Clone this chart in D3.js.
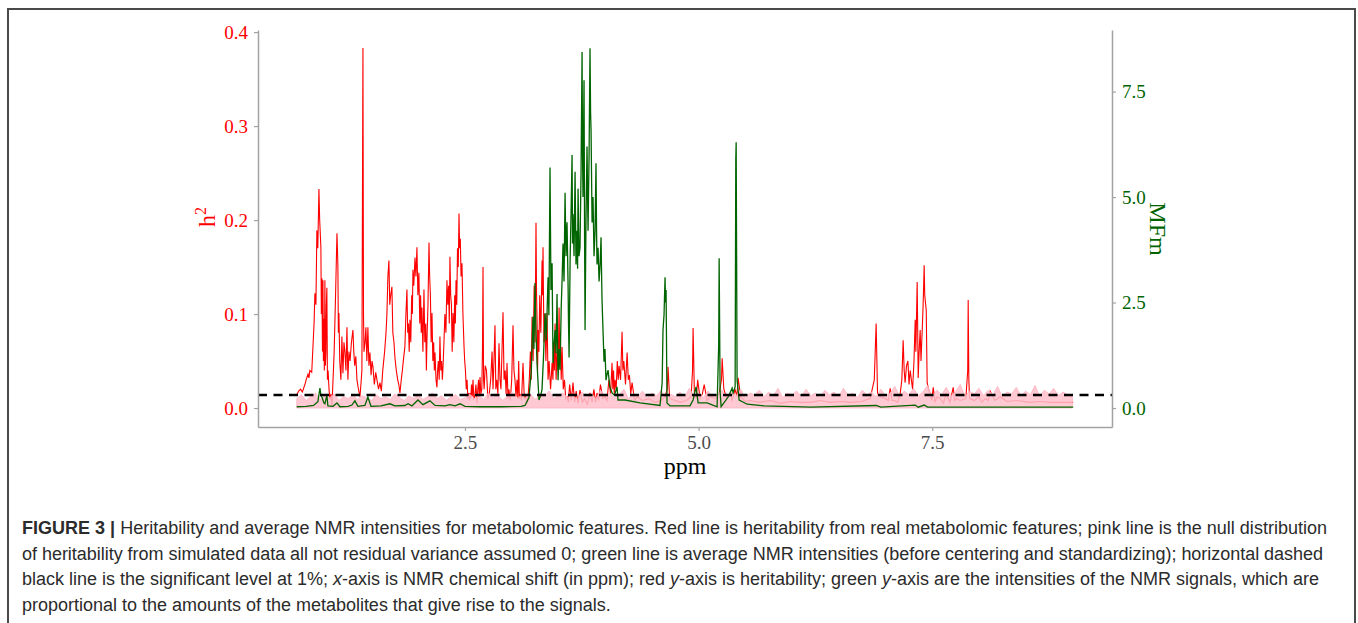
<!DOCTYPE html>
<html>
<head>
<meta charset="utf-8">
<script src="https://cdn.jsdelivr.net/npm/d3@7"></script>
<style>
body { margin: 0; background: #fff; }
</style>
</head>
<body>
<svg id="fig" width="1358" height="623"></svg>
<script>
// heritability of the real features [ppm, h2]
var h2Real = [
[0.70,0.014],[0.72,0.018],[0.74,0.020],[0.76,0.017],[0.79,0.026],[0.80,0.030],[0.82,0.036],[0.83,0.032],[0.84,0.040],[0.86,0.038],
[0.873,0.065],[0.885,0.090],[0.894,0.122],[0.905,0.110],[0.915,0.189],[0.925,0.170],[0.937,0.233],[0.945,0.200],[0.958,0.171],[0.963,0.100],
[0.969,0.138],[0.975,0.060],[0.980,0.136],[0.985,0.050],[0.990,0.095],[0.995,0.040],[1.001,0.136],[1.006,0.045],[1.012,0.060],[1.017,0.110],
[1.022,0.128],[1.028,0.030],[1.035,0.040],[1.045,0.020],[1.055,0.009],[1.066,0.015],[1.076,0.001],[1.088,0.030],[1.100,0.060],[1.115,0.120],
[1.130,0.186],[1.135,0.170],[1.140,0.150],[1.145,0.080],[1.151,0.101],[1.160,0.050],[1.172,0.030],[1.183,0.076],[1.194,0.037],[1.205,0.070],
[1.215,0.060],[1.226,0.040],[1.237,0.086],[1.247,0.030],[1.258,0.060],[1.270,0.050],[1.285,0.070],[1.301,0.083],[1.310,0.060],[1.320,0.045],
[1.332,0.055],[1.344,0.030],[1.360,0.020],[1.376,0.012],[1.390,0.030],[1.397,0.040],[1.408,0.383],[1.414,0.100],[1.419,0.060],[1.430,0.070],
[1.440,0.086],[1.450,0.050],[1.461,0.086],[1.472,0.045],[1.483,0.059],[1.495,0.035],[1.505,0.050],[1.515,0.044],[1.530,0.025],[1.545,0.038],
[1.558,0.030],[1.575,0.020],[1.590,0.027],[1.605,0.018],[1.620,0.040],[1.640,0.060],[1.655,0.080],[1.665,0.101],[1.675,0.140],[1.686,0.157],
[1.695,0.110],[1.705,0.120],[1.718,0.129],[1.728,0.080],[1.740,0.070],[1.750,0.054],[1.765,0.040],[1.780,0.030],[1.792,0.025],[1.804,0.016],
[1.818,0.030],[1.830,0.040],[1.845,0.055],[1.857,0.065],[1.868,0.100],[1.879,0.126],[1.887,0.080],[1.895,0.090],[1.903,0.060],[1.911,0.094],
[1.920,0.070],[1.930,0.120],[1.937,0.100],[1.943,0.147],[1.952,0.130],[1.965,0.160],[1.975,0.140],[1.986,0.171],[1.996,0.120],[2.007,0.144],
[2.016,0.090],[2.025,0.120],[2.032,0.080],[2.039,0.107],[2.050,0.060],[2.061,0.126],[2.070,0.070],[2.080,0.090],[2.087,0.040],[2.093,0.072],
[2.104,0.110],[2.115,0.176],[2.122,0.140],[2.130,0.120],[2.138,0.070],[2.147,0.101],[2.156,0.050],[2.165,0.070],[2.172,0.040],[2.179,0.059],
[2.190,0.030],[2.200,0.022],[2.207,0.040],[2.215,0.050],[2.224,0.030],[2.232,0.076],[2.241,0.040],[2.250,0.050],[2.258,0.030],[2.265,0.044],
[2.275,0.070],[2.285,0.100],[2.296,0.080],[2.307,0.136],[2.316,0.110],[2.325,0.130],[2.332,0.090],[2.339,0.161],[2.347,0.120],[2.355,0.110],
[2.363,0.060],[2.372,0.101],[2.381,0.070],[2.390,0.120],[2.397,0.090],[2.404,0.136],[2.412,0.110],[2.420,0.170],[2.428,0.150],[2.436,0.207],
[2.443,0.170],[2.450,0.180],[2.458,0.140],[2.468,0.154],[2.478,0.100],[2.490,0.065],[2.497,0.050],[2.505,0.040],[2.514,0.020],[2.522,0.030],
[2.531,0.010],[2.540,0.016],[2.547,0.008],[2.554,0.016],[2.562,0.010],[2.570,0.025],[2.578,0.012],[2.586,0.030],[2.595,0.010],[2.605,0.012],
[2.617,0.025],[2.629,0.005],[2.637,0.020],[2.645,0.030],[2.653,0.012],[2.661,0.033],[2.670,0.015],[2.680,0.020],[2.687,0.060],[2.693,0.150],
[2.699,0.030],[2.705,0.020],[2.717,0.045],[2.730,0.040],[2.745,0.010],[2.760,0.015],[2.775,0.030],[2.790,0.060],[2.800,0.020],[2.810,0.050],
[2.821,0.088],[2.830,0.020],[2.840,0.030],[2.852,0.015],[2.864,0.069],[2.875,0.030],[2.885,0.020],[2.896,0.060],[2.907,0.102],[2.918,0.030],
[2.930,0.040],[2.940,0.015],[2.950,0.048],[2.960,0.010],[2.970,0.020],[2.985,0.008],[3.000,0.030],[3.014,0.088],[3.024,0.040],[3.035,0.030],
[3.046,0.012],[3.057,0.030],[3.066,0.010],[3.075,0.050],[3.082,0.010],[3.089,0.015],[3.105,0.008],[3.121,0.048],[3.135,0.010],[3.150,0.012],
[3.162,0.004],[3.175,0.012],[3.188,0.030],[3.200,0.060],[3.209,0.030],[3.218,0.097],[3.229,0.050],[3.240,0.130],[3.250,0.070],[3.260,0.197],
[3.266,0.120],[3.272,0.090],[3.277,0.040],[3.282,0.083],[3.291,0.060],[3.300,0.120],[3.312,0.080],[3.325,0.157],[3.330,0.120],[3.335,0.171],
[3.345,0.070],[3.355,0.100],[3.366,0.050],[3.378,0.101],[3.389,0.030],[3.400,0.050],[3.416,0.020],[3.432,0.048],[3.441,0.030],[3.450,0.070],
[3.457,0.040],[3.464,0.090],[3.475,0.030],[3.485,0.060],[3.496,0.040],[3.507,0.107],[3.514,0.050],[3.520,0.080],[3.530,0.030],[3.539,0.065],
[3.552,0.020],[3.565,0.030],[3.578,0.010],[3.592,0.012],[3.606,0.006],[3.620,0.025],[3.638,0.008],[3.656,0.027],[3.673,0.006],[3.690,0.018],
[3.710,0.005],[3.731,0.019],[3.755,0.006],[3.780,0.010],[3.810,0.004],[3.838,0.016],[3.860,0.006],[3.880,0.020],[3.897,0.006],[3.913,0.016],
[3.930,0.008],[3.950,0.025],[3.975,0.010],[3.999,0.012],[4.020,0.008],[4.040,0.030],[4.058,0.015],[4.074,0.048],[4.082,0.020],[4.090,0.040],
[4.098,0.015],[4.106,0.030],[4.118,0.020],[4.130,0.050],[4.140,0.030],[4.149,0.045],[4.165,0.030],[4.181,0.081],[4.190,0.040],[4.200,0.050],
[4.218,0.025],[4.235,0.059],[4.248,0.030],[4.260,0.035],[4.274,0.015],[4.288,0.027],[4.315,0.008],[4.341,0.012],[4.40,0.008],[4.47,0.010],
[4.534,0.006],[4.60,0.008],[4.64,0.012],[4.665,0.020],[4.673,0.044],[4.69,0.010],[4.75,0.008],[4.802,0.006],[4.87,0.008],[4.920,0.012],
[4.935,0.040],[4.941,0.085],[4.955,0.015],[4.975,0.010],[4.990,0.030],[5.016,0.010],[5.040,0.015],[5.060,0.025],[5.090,0.008],[5.123,0.012],
[5.180,0.010],[5.220,0.015],[5.245,0.030],[5.252,0.053],[5.270,0.020],[5.300,0.010],[5.337,0.015],[5.360,0.008],[5.390,0.020],[5.410,0.012],
[5.423,0.032],[5.450,0.012],[5.500,0.007],[5.552,0.008],[5.65,0.006],[5.767,0.008],[5.88,0.005],[5.981,0.007],[6.10,0.006],[6.195,0.006],
[6.30,0.008],[6.409,0.006],[6.52,0.007],[6.622,0.006],[6.74,0.007],[6.836,0.010],[6.880,0.030],[6.900,0.090],[6.915,0.015],[6.943,0.012],
[7.000,0.010],[7.030,0.008],[7.050,0.021],[7.070,0.008],[7.100,0.008],[7.130,0.006],[7.157,0.015],[7.175,0.030],[7.189,0.072],[7.200,0.040],
[7.210,0.027],[7.225,0.045],[7.240,0.050],[7.252,0.025],[7.264,0.040],[7.290,0.020],[7.305,0.050],[7.318,0.094],[7.325,0.060],[7.339,0.134],
[7.344,0.090],[7.350,0.032],[7.360,0.060],[7.371,0.083],[7.380,0.050],[7.393,0.083],[7.403,0.110],[7.414,0.152],[7.420,0.120],[7.436,0.104],
[7.446,0.027],[7.460,0.020],[7.480,0.015],[7.495,0.008],[7.511,0.022],[7.530,0.006],[7.550,0.012],[7.586,0.010],[7.620,0.005],[7.650,0.015],
[7.690,0.006],[7.725,0.022],[7.740,0.008],[7.760,0.010],[7.800,0.008],[7.860,0.010],[7.880,0.040],[7.885,0.115],[7.892,0.030],[7.900,0.010],
[7.950,0.008],[8.000,0.012],[8.030,0.006],[8.067,0.010],[8.100,0.008],[8.12,0.018],[8.17,0.008],[8.228,0.012],[8.30,0.007],[8.40,0.008],
[8.549,0.006],[8.65,0.007],[8.763,0.006],[8.88,0.006],[9.009,0.006]
];

// null distribution from simulated data [ppm, h2]
var h2Null = [
[0.70,.010],[0.75,.014],[0.80,.008],[0.85,.012],[0.90,.016],[0.95,.009],[1.00,.013],[1.05,.011],[1.10,.015],[1.15,.008],
[1.20,.012],[1.25,.010],[1.30,.014],[1.35,.009],[1.40,.013],[1.45,.011],[1.50,.008],[1.55,.014],[1.60,.010],[1.65,.012],
[1.70,.009],[1.75,.015],[1.80,.011],[1.85,.008],[1.90,.013],[1.95,.010],[2.00,.014],[2.05,.009],[2.10,.012],[2.15,.016],
[2.20,.010],[2.25,.013],[2.30,.008],[2.35,.012],[2.40,.014],[2.45,.009],[2.50,.011],[2.55,.015],[2.60,.010],[2.65,.013],
[2.70,.009],[2.75,.016],[2.80,.011],[2.85,.014],[2.90,.008],[2.95,.012],[3.00,.017],[3.05,.010],[3.10,.013],[3.15,.011],
[3.20,.015],[3.25,.009],[3.30,.014],[3.35,.012],[3.40,.018],[3.45,.010],[3.50,.013],[3.55,.016],[3.60,.011],[3.65,.014],
[3.70,.009],[3.75,.017],[3.80,.012],[3.85,.015],[3.90,.010],[3.95,.019],[4.00,.012],[4.05,.016],[4.10,.011],[4.15,.014],
[4.20,.020],[4.25,.010],[4.30,.015],[4.35,.012],[4.40,.018],[4.45,.011],[4.50,.016],[4.55,.013],[4.60,.019],[4.65,.010],
[4.70,.015],[4.75,.012],[4.80,.017],[4.85,.011],[4.90,.021],[4.95,.013],[5.00,.016],[5.05,.011],[5.10,.018],[5.15,.012],
[5.20,.015],[5.25,.019],[5.30,.012],[5.35,.017],[5.40,.013],[5.45,.020],[5.50,.011],[5.55,.016],[5.60,.014],[5.65,.019],
[5.70,.012],[5.75,.017],[5.80,.013],[5.85,.021],[5.90,.011],[5.95,.016],[6.00,.014],[6.05,.018],[6.10,.012],[6.15,.020],
[6.20,.013],[6.25,.016],[6.30,.011],[6.35,.019],[6.40,.014],[6.45,.017],[6.50,.012],[6.55,.021],[6.60,.013],[6.65,.016],
[6.70,.011],[6.75,.019],[6.80,.014],[6.85,.017],[6.90,.012],[6.95,.020],[7.00,.013],[7.05,.016],[7.10,.023],[7.15,.012],
[7.20,.018],[7.25,.014],[7.30,.021],[7.35,.013],[7.40,.017],[7.45,.024],[7.50,.012],[7.55,.019],[7.60,.014],[7.65,.022],
[7.70,.013],[7.75,.017],[7.80,.025],[7.85,.012],[7.90,.018],[7.95,.015],[8.00,.021],[8.05,.013],[8.10,.019],[8.15,.014],
[8.20,.023],[8.25,.012],[8.30,.017],[8.35,.015],[8.40,.022],[8.45,.013],[8.50,.018],[8.55,.014],[8.60,.024],[8.65,.012],
[8.70,.019],[8.75,.015],[8.80,.021],[8.85,.013],[8.90,.017],[8.95,.014],[9.00,.012]
];

// average NMR intensity [ppm, MFm]
var mfm = [
[0.70,0.03],[0.80,0.04],[0.88,0.06],[0.926,0.15],[0.948,0.47],[0.958,0.30],[0.969,0.26],[0.990,0.12],[1.001,0.10],[1.022,0.30],
[1.033,0.05],[1.087,0.04],[1.130,0.12],[1.162,0.03],[1.250,0.04],[1.290,0.07],[1.322,0.17],[1.354,0.04],[1.429,0.06],[1.461,0.26],
[1.494,0.04],[1.600,0.05],[1.697,0.10],[1.750,0.05],[1.857,0.06],[1.890,0.10],[1.932,0.05],[1.997,0.19],[2.050,0.08],[2.125,0.17],
[2.179,0.06],[2.286,0.05],[2.339,0.08],[2.393,0.05],[2.447,0.10],[2.500,0.04],[2.661,0.03],[2.875,0.03],[3.100,0.04],[3.142,0.06],
[3.185,0.25],[3.210,0.90],[3.228,2.16],[3.238,1.40],[3.249,2.96],[3.260,1.80],[3.271,1.06],[3.292,0.19],[3.310,0.30],[3.324,0.43],
[3.340,1.20],[3.357,2.25],[3.370,1.60],[3.389,3.10],[3.398,2.20],[3.410,5.70],[3.420,2.80],[3.432,3.43],[3.442,1.06],[3.453,1.50],
[3.464,1.85],[3.475,1.30],[3.485,2.70],[3.496,0.66],[3.507,1.40],[3.517,0.90],[3.530,2.40],[3.540,3.10],[3.549,3.90],[3.560,3.00],
[3.571,5.10],[3.581,3.60],[3.592,4.40],[3.603,2.96],[3.608,2.00],[3.614,1.20],[3.625,3.50],[3.635,4.60],[3.646,6.00],[3.651,3.90],
[3.656,4.60],[3.667,3.60],[3.678,5.60],[3.688,3.40],[3.699,4.20],[3.705,3.30],[3.710,5.20],[3.720,3.60],[3.731,3.80],[3.742,5.60],
[3.753,8.44],[3.758,6.00],[3.763,5.00],[3.769,6.40],[3.774,7.77],[3.780,4.00],[3.785,1.85],[3.795,4.50],[3.806,6.20],[3.812,5.00],
[3.817,4.20],[3.828,6.00],[3.838,8.53],[3.844,7.00],[3.849,6.60],[3.860,4.40],[3.870,5.00],[3.881,3.60],[3.892,4.20],[3.897,5.00],
[3.902,5.80],[3.908,4.20],[3.913,3.40],[3.924,3.80],[3.935,3.00],[3.946,3.40],[3.956,4.05],[3.966,2.60],[3.977,1.85],[3.988,1.10],
[3.998,1.40],[4.009,0.66],[4.020,0.80],[4.031,0.90],[4.050,0.50],[4.074,0.36],[4.100,0.30],[4.127,0.50],[4.138,0.19],[4.213,0.19],
[4.373,0.12],[4.587,0.06],[4.610,0.60],[4.619,1.85],[4.630,2.20],[4.641,3.10],[4.646,2.50],[4.652,2.80],[4.662,0.12],[4.694,0.05],
[4.908,0.05],[4.941,0.19],[4.973,0.50],[4.995,0.12],[5.091,0.12],[5.198,0.03],[5.215,1.50],[5.220,3.55],[5.230,0.40],[5.241,0.03],
[5.316,0.26],[5.359,0.47],[5.369,0.36],[5.391,0.50],[5.398,5.90],[5.402,6.30],[5.412,0.66],[5.434,0.19],[5.520,0.09],[5.700,0.05],
[5.905,0.04],[6.200,0.02],[6.900,0.06],[6.950,0.02],[7.318,0.07],[7.350,0.02],[7.414,0.07],[7.450,0.02],[8.000,0.02],[9.009,0.02]
];

var sigLevel = 0.0138;
var h2Ticks = [0, 0.1, 0.2, 0.3, 0.4];
var mfmTicks = [0, 2.5, 5, 7.5];
var ppmTicks = [2.5, 5, 7.5];

var captionLines = [
	[["FIGURE 3 | ", "b"], ["Heritability and average NMR intensities for metabolomic features. Red line is heritability from real metabolomic features; pink line is the null distribution", ""]],
	[["of heritability from simulated data all not residual variance assumed 0; green line is average NMR intensities (before centering and standardizing); horizontal dashed", ""]],
	[["black line is the significant level at 1%; ", ""], ["x", "i"], ["-axis is NMR chemical shift (in ppm); red ", ""], ["y", "i"], ["-axis is heritability; green ", ""], ["y", "i"], ["-axis are the intensities of the NMR signals, which are", ""]],
	[["proportional to the amounts of the metabolites that give rise to the signals.", ""]]
];
var captionEnds = [1327, 1323, 1319];

var svg = d3.select("#fig");
var plotL = 258, plotR = 1112, plotT = 30, plotB = 427;
var serif = "'Liberation Serif', 'Times New Roman', serif";

// figure frame
svg.append("rect")
	.attr("x", 8).attr("y", 9).attr("width", 1347).attr("height", 640)
	.attr("fill", "none").attr("stroke", "#4a4a4a").attr("stroke-width", 2);

var x = d3.scaleLinear().domain([0.285, 9.424]).range([plotL, plotR]);
var y = d3.scaleLinear().domain([-0.0202, 0.4022]).range([plotB, plotT]);
var y2 = d3.scaleLinear().domain([-0.45, 8.96]).range([plotB, plotT]);

var redLine = d3.line().x(function(d){ return x(d[0]); }).y(function(d){ return y(d[1]); });
var nullArea = d3.area().x(function(d){ return x(d[0]); }).y0(y(0)).y1(function(d){ return y(d[1]); });
var greenLine = d3.line().x(function(d){ return x(d[0]); }).y(function(d){ return y2(d[1]); });

svg.append("path").datum(h2Real)
	.attr("d", redLine).attr("fill", "none").attr("stroke", "#ff0000").attr("stroke-width", 1.1);

svg.append("path").datum(h2Null)
	.attr("d", nullArea).attr("fill", "#ffc0cb").attr("fill-opacity", 0.85)
	.attr("stroke", "#ffb3c0").attr("stroke-width", 0.8);

svg.append("path").datum(mfm)
	.attr("d", greenLine).attr("fill", "none").attr("stroke", "#006400").attr("stroke-width", 1.3);

svg.append("line")
	.attr("x1", plotL).attr("x2", plotR)
	.attr("y1", y(sigLevel)).attr("y2", y(sigLevel))
	.attr("stroke", "#000").attr("stroke-width", 2.5).attr("stroke-dasharray", "9,6.5");

// axes
function styleAxis(g, color){
	g.select(".domain").attr("stroke", "#a3a3a3").attr("stroke-width", 1.5);
	g.selectAll(".tick line").attr("stroke", "#a3a3a3").attr("stroke-width", 1.2);
	g.selectAll(".tick text").attr("fill", color).style("font-family", serif).style("font-size", "19px");
}

var gx = svg.append("g").attr("transform", "translate(0," + plotB + ")")
	.call(d3.axisBottom(x).tickValues(ppmTicks).tickFormat(d3.format(".1f")).tickSize(4).tickSizeOuter(0).tickPadding(5));
styleAxis(gx, "#4d4d4d");

var gy = svg.append("g").attr("transform", "translate(" + plotL + ",0)")
	.call(d3.axisLeft(y).tickValues(h2Ticks).tickFormat(d3.format(".1f")).tickSize(4).tickSizeOuter(0).tickPadding(6));
styleAxis(gy, "#ff0000");

var gy2 = svg.append("g").attr("transform", "translate(" + plotR + ",0)")
	.call(d3.axisRight(y2).tickValues(mfmTicks).tickFormat(d3.format(".1f")).tickSize(4).tickSizeOuter(0).tickPadding(6));
styleAxis(gy2, "#006400");

// axis titles
svg.append("text")
	.attr("x", 685).attr("y", 474).attr("text-anchor", "middle")
	.style("font-family", serif).style("font-size", "24px").attr("fill", "#000")
	.text("ppm");

var h2Title = svg.append("text")
	.attr("transform", "translate(215,217) rotate(-90)").attr("text-anchor", "middle")
	.style("font-family", serif).style("font-size", "24px").attr("fill", "#ff0000");
h2Title.append("tspan").text("h");
h2Title.append("tspan").attr("dy", -9).style("font-size", "16px").text("2");

svg.append("text")
	.attr("transform", "translate(1150,229) rotate(90)").attr("text-anchor", "middle")
	.style("font-family", serif).style("font-size", "24px").attr("fill", "#006400")
	.text("MFm");

// caption, letter spacing tuned so each line ends where the reference does
var spacings = [];
captionLines.forEach(function(line, i){
	var t = svg.append("text")
		.attr("x", 22).attr("y", 534 + i * 25.5)
		.style("font-family", "'Liberation Sans', Arial, sans-serif").style("font-size", "18px")
		.attr("fill", "#2b2b2b");
	var chars = 0;
	line.forEach(function(seg){
		var s = t.append("tspan").text(seg[0]);
		chars += seg[0].length;
		if (seg[1] === "b") s.style("font-weight", "bold");
		if (seg[1] === "i") s.style("font-style", "italic");
	});
	var w = t.node().getComputedTextLength();
	var ls;
	if (i < captionEnds.length){
		ls = (captionEnds[i] - 22 - w) / chars;
		spacings.push(ls);
	}else{
		ls = d3.mean(spacings);
	}
	t.style("letter-spacing", ls + "px");
});
</script>
</body>
</html>
